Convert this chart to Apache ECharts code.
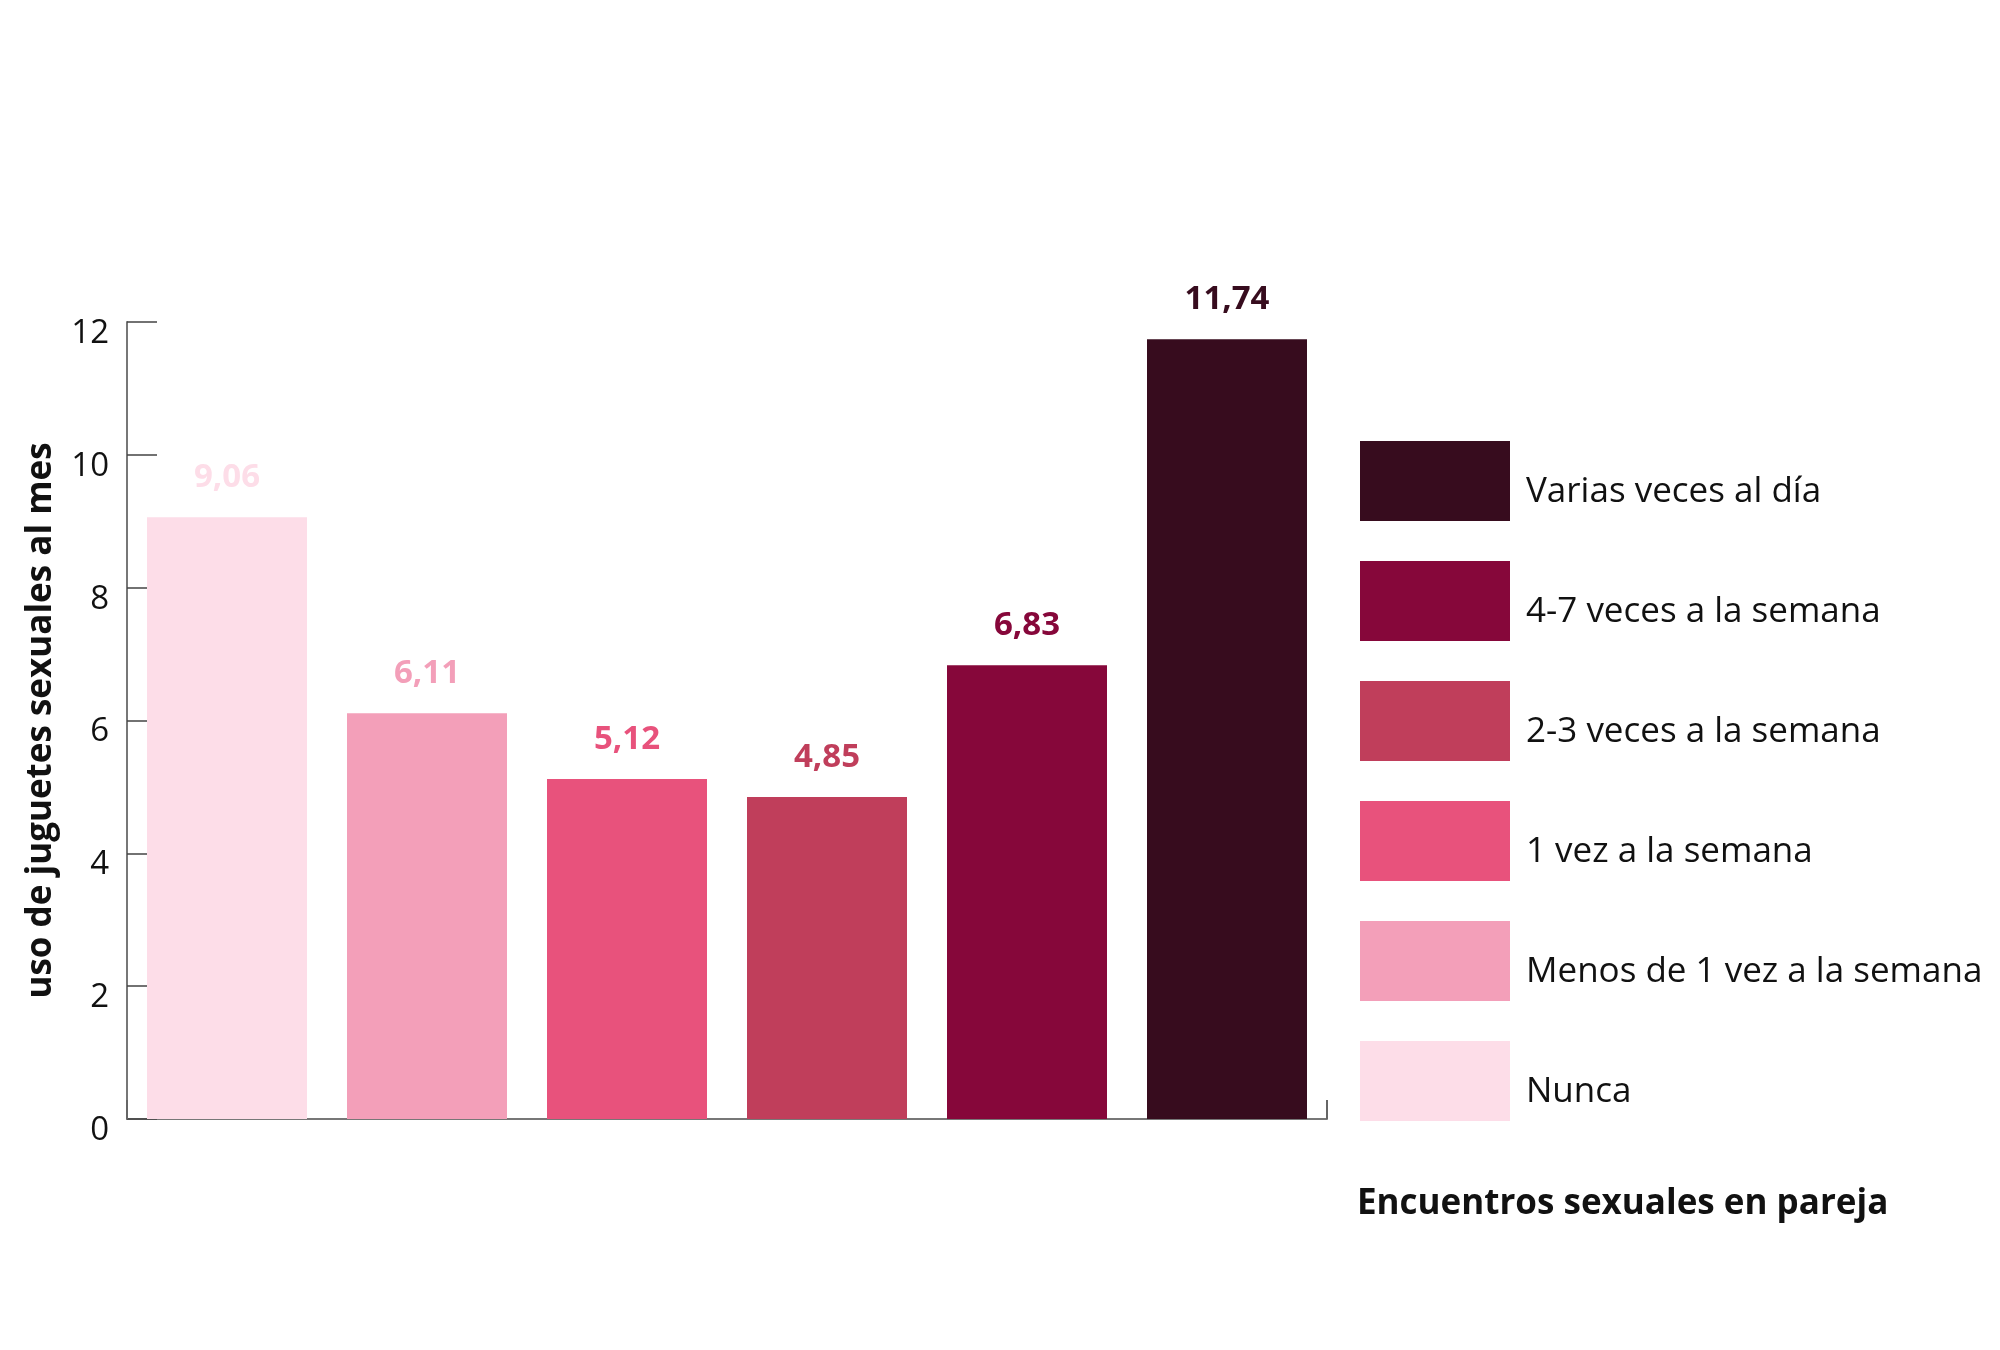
<!DOCTYPE html>
<html>
<head>
<meta charset="utf-8">
<script src="https://cdn.jsdelivr.net/npm/echarts@6/dist/echarts.min.js"></script>
<style>
html,body{margin:0;padding:0;background:#fff;}
#chart{width:2000px;height:1350px;}
</style>
</head>
<body>
<div id="chart"></div>
<script>
const categories = ['Nunca', 'Menos de 1 vez a la semana', '1 vez a la semana', '2-3 veces a la semana', '4-7 veces a la semana', 'Varias veces al día'];
const values = [9.06, 6.11, 5.12, 4.85, 6.83, 11.74];
const colors = ['#fddde8', '#f39fb9', '#e8527c', '#c03e5b', '#86073a', '#370c1e'];
const legendOrder = ['Varias veces al día', '4-7 veces a la semana', '2-3 veces a la semana', '1 vez a la semana', 'Menos de 1 vez a la semana', 'Nunca'];
const yTicks = [0, 2, 4, 6, 8, 10, 12];
const yTitle = 'uso de juguetes sexuales al mes';
const xTitle = 'Encuentros sexuales en pareja';

const FONT = '"Open Sans", "Noto Sans", sans-serif';

const series = categories.map((name, i) => ({
  name: name,
  type: 'bar',
  stack: 'all',
  barWidth: 160,
  data: categories.map((c, j) => (j === i ? values[i] : '-')),
  itemStyle: { color: colors[i] },
  label: {
    show: true,
    position: 'top',
    distance: 23,
    color: colors[i],
    fontFamily: FONT,
    fontWeight: 'bold',
    fontSize: 33,
    formatter: p => p.value.toFixed(2).replace('.', ',')
  }
}));

const chart = echarts.init(document.getElementById('chart'), null, { renderer: 'canvas' });
chart.setOption({
  animation: false,
  backgroundColor: '#ffffff',
  title: {
    text: xTitle,
    left: 1352,
    top: 1182,
    textStyle: { fontFamily: FONT, fontWeight: 'bold', fontSize: 35, color: '#111' }
  },
  legend: {
    orient: 'vertical',
    left: 1355,
    top: 436,
    itemWidth: 150,
    itemHeight: 80,
    itemGap: 40,
    icon: 'rect',
    data: legendOrder,
    selectedMode: false,
    formatter: name => '{t|' + name + '}',
    textStyle: {
      fontFamily: FONT, fontSize: 35, color: '#111',
      rich: { t: { fontFamily: FONT, fontSize: 35, color: '#111', padding: [23, 0, 0, 11] } }
    }
  },
  grid: { left: 127, right: 673, top: 322, bottom: 231, containLabel: false },
  xAxis: {
    type: 'category',
    data: categories,
    boundaryGap: true,
    axisLine: { show: true, lineStyle: { color: '#777', width: 2 } },
    axisTick: { show: true, inside: true, length: 19, interval: (idx) => idx === 0, lineStyle: { color: '#666', width: 2 } },
    axisLabel: { show: false },
    splitLine: { show: false }
  },
  yAxis: {
    type: 'value',
    min: 0,
    max: 12,
    interval: 2,
    name: yTitle,
    nameLocation: 'middle',
    nameGap: 68,
    nameTextStyle: { fontFamily: FONT, fontWeight: 'bold', fontSize: 35, color: '#111' },
    axisLine: { show: true, lineStyle: { color: '#777', width: 2 } },
    axisTick: { show: true, inside: true, length: 30, lineStyle: { color: '#444', width: 1.5 } },
    axisLabel: {
      fontFamily: FONT, fontSize: 33, color: '#111', margin: 18,
      verticalAlign: 'top', lineHeight: 23,
      formatter: v => (yTicks.includes(v) ? String(v) : '')
    },
    splitLine: { show: false }
  },
  series: series
});
</script>
</body>
</html>
